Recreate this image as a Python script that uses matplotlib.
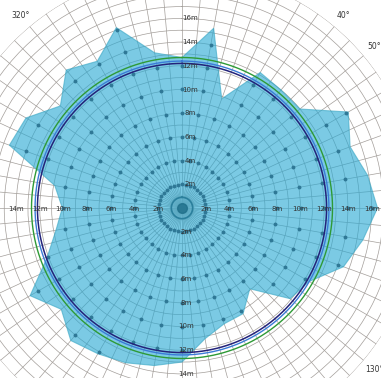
import numpy as np
import matplotlib
matplotlib.use('Agg')
import matplotlib.pyplot as plt

# directions (deg, clockwise from north) and reach (m) of the shaded area
angles = [0, 10, 20, 30, 40, 50, 60, 70, 80, 90, 100, 110,
          120, 130, 140, 150, 160, 170, 180, 190, 200, 210, 220, 230,
          240, 250, 260, 270, 280, 290, 300, 310, 320, 330, 340, 350]
reach = [12.7, 15.4, 9.8, 13.2, 13.0, 13.0, 16.2, 15.1, 15.9, 16.5, 15.5, 14.5,
         12.4, 11.9, 8.9, 10.3, 10.4, 11.2, 13.0, 13.5, 13.9, 14.2, 14.6, 13.3,
         14.8, 12.1, 10.8, 10.1, 10.9, 15.5, 15.2, 13.4, 15.2, 14.3, 16.2, 13.3]

# reference circles (m)
circle_navy = 12.2
circle_blue = 12.4
circle_green = 12.7

dot_steps = [2, 4, 6, 8, 10, 12, 14, 16]
dist_labels = [2, 4, 6, 8, 10, 12, 14, 16]
angle_labels = list(range(0, 360, 10))

rmax = 20.0
W, H = 381, 378
cx, cy = 182, 208          # centre in pixels (from top)
pxm = 11.85                # pixels per metre
rad_px = rmax * pxm

fig = plt.figure(figsize=(W / 100, H / 100), dpi=100)
ax = fig.add_axes([(cx - rad_px) / W, (H - cy - rad_px) / H,
                   2 * rad_px / W, 2 * rad_px / H], projection='polar')
ax.set_theta_zero_location('N')
ax.set_theta_direction(-1)
ax.set_ylim(0, rmax)
ax.set_thetagrids(np.arange(0, 360, 5), labels=[])
ax.set_rgrids(np.arange(1, 21), labels=[])
ax.grid(True, color='#a39e9a', linewidth=0.5)
ax.spines['polar'].set_visible(False)
ax.set_axisbelow(True)

th = np.deg2rad(angles + [angles[0]])
rr = reach + [reach[0]]
ax.fill(th, rr, facecolor='#2aaad4', alpha=0.62, edgecolor='#3aa7c4',
        linewidth=0.8, zorder=3)

# dots along the spokes, inside the shaded area
for a, v in zip(angles, reach):
    rs = [s for s in dot_steps if s < v]
    ax.plot(np.full(len(rs), np.deg2rad(a)), rs, 'o', color='#2f7896',
            markersize=2.8, markeredgewidth=0, zorder=4)
t = np.linspace(0, 2 * np.pi, 361)
ax.plot(t, np.full_like(t, 0.9), color='#2a7f9c', linewidth=1.2, zorder=4)
ax.plot([0], [0], 'o', color='#1f6f8a', markersize=7, alpha=0.8, zorder=4)

ax.plot(t, np.full_like(t, circle_green), color='#2e9a36', linewidth=1.0, zorder=5)
ax.plot(t, np.full_like(t, circle_blue), color='#3b7bd8', linewidth=1.0, zorder=5)
ax.plot(t, np.full_like(t, circle_navy), color='#23237a', linewidth=1.1, zorder=5)

# distance labels along the four main directions
lab_kw = dict(fontsize=5, color='#333333', ha='center', va='center',
              textcoords='offset points', zorder=6, annotation_clip=False)
for d in dist_labels:
    ax.annotate('%dm' % d, (0, d), xytext=(6, 0), **lab_kw)
    ax.annotate('%dm' % d, (np.pi, d), xytext=(3, 0), **lab_kw)
    ax.annotate('%dm' % d, (1.5 * np.pi, d), xytext=(0, -1), **lab_kw)
    ax.annotate('%dm' % d, (0.5 * np.pi, d), xytext=(0, -1), **lab_kw)

for a in angle_labels:
    ax.text(np.deg2rad(a), 21.2, '%d°' % a, fontsize=5.5, color='#333333',
            ha='center', va='center', clip_on=False)

fig.savefig('out.png', dpi=100)
